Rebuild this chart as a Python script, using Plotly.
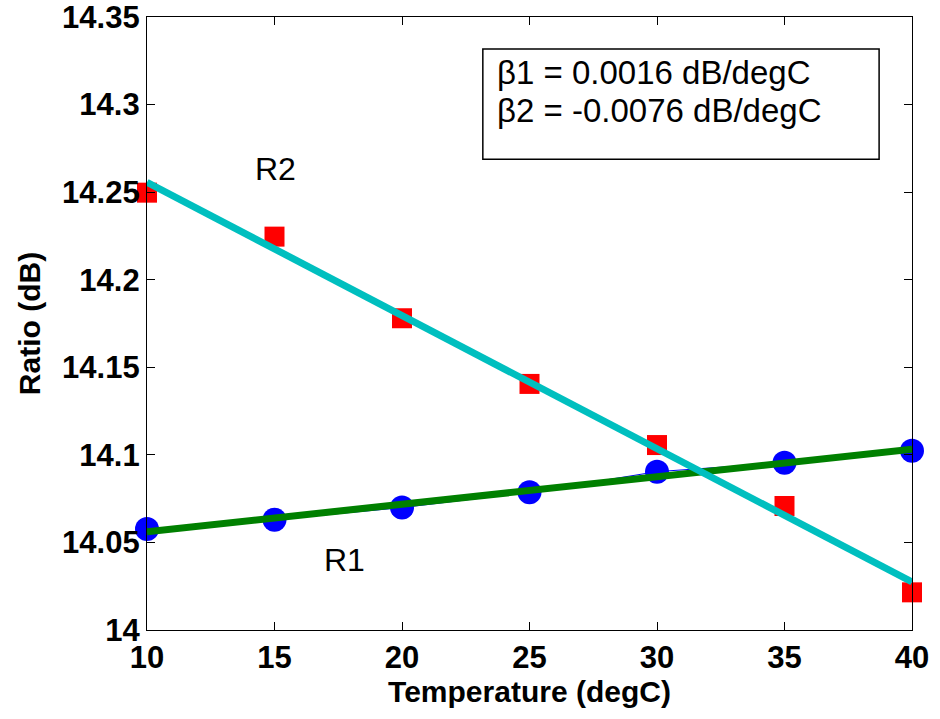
import numpy as np
import plotly.graph_objects as go

# Measured ratio versus temperature for the two channels
temperature = [10, 15, 20, 25, 30, 35, 40]
ratio_r1 = [14.0577, 14.063, 14.0699, 14.0786, 14.0904, 14.0955, 14.1024]
ratio_r2 = [14.2497, 14.2246, 14.178, 14.1405, 14.1056, 14.0708, 14.0215]

# Linear fits (slopes quoted in the text box)
coef_r1 = np.polyfit(temperature, ratio_r1, 1)
coef_r2 = np.polyfit(temperature, ratio_r2, 1)
fit_x = [temperature[0], temperature[-1]]
fit_r1 = list(np.polyval(coef_r1, fit_x))
fit_r2 = list(np.polyval(coef_r2, fit_x))

x_ticks = [10, 15, 20, 25, 30, 35, 40]
y_ticks = [14, 14.05, 14.1, 14.15, 14.2, 14.25, 14.3, 14.35]
y_tick_text = ["14", "14.05", "14.1", "14.15", "14.2", "14.25", "14.3", "14.35"]

FONT = "Liberation Sans, Arial, sans-serif"

fig = go.Figure()

fig.add_trace(go.Scatter(
    x=temperature, y=ratio_r1, mode="lines+markers",
    line=dict(color="#0000FF", width=1),
    marker=dict(symbol="circle", size=24, color="#0000FF"),
    cliponaxis=False, showlegend=False,
))
fig.add_trace(go.Scatter(
    x=temperature, y=ratio_r2, mode="markers",
    marker=dict(symbol="square", size=20, color="#FF0000"),
    cliponaxis=False, showlegend=False,
))
fig.add_trace(go.Scatter(
    x=fit_x, y=fit_r1, mode="lines",
    line=dict(color="#008000", width=7),
    showlegend=False,
))
fig.add_trace(go.Scatter(
    x=fit_x, y=fit_r2, mode="lines",
    line=dict(color="#00BFBF", width=7),
    showlegend=False,
))

fig.add_annotation(x=15.02, y=14.2632, text="R2", showarrow=False,
                   font=dict(family=FONT, size=32, color="black"))
fig.add_annotation(x=17.76, y=14.040, text="R1", showarrow=False,
                   font=dict(family=FONT, size=32, color="black"))

# Slope text box
fig.add_shape(type="rect", xref="paper", yref="paper",
              x0=0.439, x1=0.957, y0=0.768, y1=0.948,
              line=dict(color="black", width=1.5), fillcolor="white")
fig.add_annotation(xref="paper", yref="paper", x=0.455, y=0.909,
                   xanchor="left", yanchor="middle", showarrow=False,
                   text="β1 = 0.0016 dB/degC",
                   font=dict(family=FONT, size=33, color="black"))
fig.add_annotation(xref="paper", yref="paper", x=0.455, y=0.848,
                   xanchor="left", yanchor="middle", showarrow=False,
                   text="β2 = -0.0076 dB/degC",
                   font=dict(family=FONT, size=33, color="black"))

axis_common = dict(
    showgrid=False, zeroline=False, automargin=False,
    showline=True, linecolor="black", linewidth=1.3,
    mirror="ticks", ticks="inside", ticklen=8, tickwidth=1, tickcolor="black",
    ticklabeloverflow="allow",
    tickfont=dict(family=FONT, size=31, color="black", weight="bold"),
)

fig.update_xaxes(range=[10, 40], tickvals=x_ticks,
                 title=dict(text="Temperature (degC)", standoff=2,
                            font=dict(family=FONT, size=30, color="black", weight="bold")),
                 **axis_common)
fig.update_yaxes(range=[14, 14.35], tickvals=y_ticks, ticktext=y_tick_text,
                 title=dict(text="Ratio (dB)", standoff=12,
                            font=dict(family=FONT, size=30, color="black", weight="bold")),
                 **axis_common)

fig.update_layout(
    width=940, height=719,
    margin=dict(l=147, r=28, t=17, b=89),
    plot_bgcolor="white", paper_bgcolor="white",
)

fig.write_html("out.html")
